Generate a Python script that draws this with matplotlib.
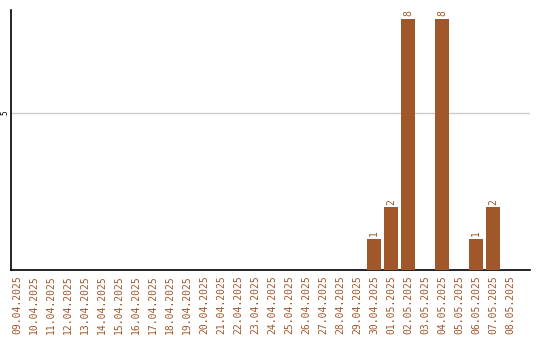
import matplotlib
matplotlib.use("Agg")
import matplotlib.pyplot as plt

dates = ["09.04.2025", "10.04.2025", "11.04.2025", "12.04.2025", "13.04.2025",
         "14.04.2025", "15.04.2025", "16.04.2025", "17.04.2025", "18.04.2025",
         "19.04.2025", "20.04.2025", "21.04.2025", "22.04.2025", "23.04.2025",
         "24.04.2025", "25.04.2025", "26.04.2025", "27.04.2025", "28.04.2025",
         "29.04.2025", "30.04.2025", "01.05.2025", "02.05.2025", "03.05.2025",
         "04.05.2025", "05.05.2025", "06.05.2025", "07.05.2025", "08.05.2025"]
values = [0, 0, 0, 0, 0, 0, 0, 0, 0, 0,
          0, 0, 0, 0, 0, 0, 0, 0, 0, 0,
          0, 1, 2, 8, 0, 8, 0, 1, 2, 0]

bar_color = "#A0572A"
text_color = "#A0572A"

fig = plt.figure(figsize=(5.4, 3.4), dpi=100)
ax = fig.add_axes([0.0204, 0.206, 0.961, 0.764])

x = list(range(len(dates)))
ax.bar(x, values, width=0.82, color=bar_color, zorder=3)
for xi, v in zip(x, values):
    if v > 0:
        ax.text(xi, v + 0.08, str(v), rotation=90, ha="center", va="bottom",
                color=text_color, fontsize=7, family="DejaVu Sans Mono")

ax.set_xlim(-0.35, len(dates) + 0.18)
ax.set_ylim(0, 8.28)
ax.set_yticks([5])
ax.set_yticklabels(["5"], rotation=90, va="center", fontsize=5.5,
                   family="DejaVu Sans Mono")
ax.yaxis.grid(True, color="#cccccc", linewidth=1, zorder=0)
ax.set_xticks(x)
ax.set_xticklabels(dates, rotation=90, fontsize=7, color=text_color,
                   family="DejaVu Sans Mono")
ax.tick_params(axis="x", length=0, pad=4)
ax.tick_params(axis="y", length=0, pad=1)
for s in ["top", "right"]:
    ax.spines[s].set_visible(False)
for s in ["left", "bottom"]:
    ax.spines[s].set_linewidth(1.2)
    ax.spines[s].set_color("black")

fig.savefig("out.png", dpi=100)
